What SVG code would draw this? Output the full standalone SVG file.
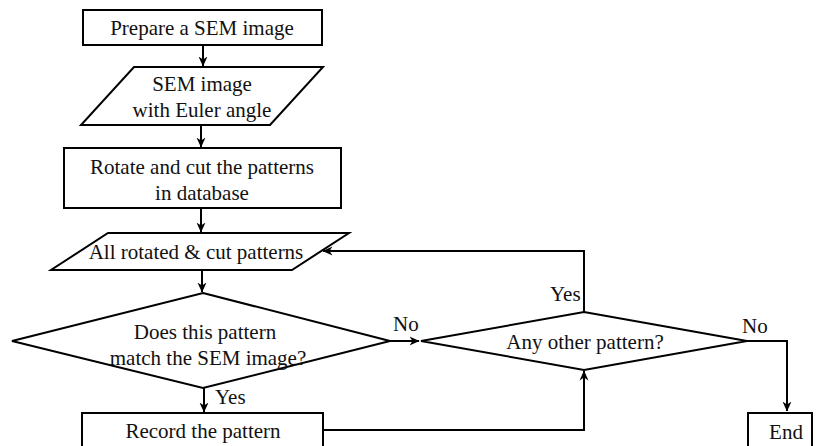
<svg xmlns="http://www.w3.org/2000/svg" width="817" height="446" viewBox="0 0 817 446">
  <style>
    .shape { fill: #ffffff; stroke: #000000; stroke-width: 2; }
    .edge { fill: none; stroke: #000000; stroke-width: 2; }
    text { font-family: "Liberation Serif", Tinos, "Times New Roman", Times, "DejaVu Serif", serif; font-size: 21px; fill: #111111; text-anchor: middle; }
    .lbl { text-anchor: start; }
  </style>
  <defs>
    <marker id="arrow" viewBox="0 0 10 10" refX="9.5" refY="5" markerWidth="10" markerHeight="10" markerUnits="userSpaceOnUse" orient="auto">
      <path d="M0,0.5 L10,5 L0,9.5 L3,5 Z" fill="#000000"/>
    </marker>
  </defs>
  <rect width="817" height="446" fill="#ffffff"/>

  <g id="connectors">
    <line class="edge" x1="203" y1="45" x2="203" y2="66" marker-end="url(#arrow)"/>
    <line class="edge" x1="201" y1="125" x2="201" y2="147" marker-end="url(#arrow)"/>
    <line class="edge" x1="201" y1="208" x2="201" y2="232" marker-end="url(#arrow)"/>
    <line class="edge" x1="202" y1="270" x2="202" y2="292" marker-end="url(#arrow)"/>
    <line class="edge" x1="204" y1="388" x2="204" y2="412" marker-end="url(#arrow)"/>
    <line class="edge" x1="390" y1="341" x2="419" y2="341" marker-end="url(#arrow)"/>
    <polyline class="edge" points="584,312 584,251 323,251" marker-end="url(#arrow)"/>
    <polyline class="edge" points="323,430 584,430 584,371" marker-end="url(#arrow)"/>
    <polyline class="edge" points="747,341 787,341 787,411" marker-end="url(#arrow)"/>
    <text class="lbl" x="393" y="331">No</text>
    <text class="lbl" x="215" y="404">Yes</text>
    <text class="lbl" x="550" y="301">Yes</text>
    <text class="lbl" x="742" y="333">No</text>
  </g>

  <g id="prepare">
    <rect class="shape" x="83" y="10" width="239" height="35"/>
    <text x="202" y="35">Prepare a SEM image</text>
  </g>

  <g id="sem-euler">
    <polygon class="shape" points="134,67 323,67 270,125 81,125"/>
    <text x="202" y="91">SEM image</text>
    <text x="202" y="117">with Euler angle</text>
  </g>

  <g id="rotate-cut">
    <rect class="shape" x="64" y="148" width="277" height="60"/>
    <text x="202" y="174">Rotate and cut the patterns</text>
    <text x="202" y="200">in database</text>
  </g>

  <g id="all-patterns">
    <polygon class="shape" points="108,233 349,233 292,270 51,270"/>
    <text x="196" y="259">All rotated &amp; cut patterns</text>
  </g>

  <g id="match-decision">
    <polygon class="shape" points="203,293 390,341 203,388 12,341"/>
    <text x="205" y="339">Does this pattern</text>
    <text x="208" y="365">match the SEM image?</text>
  </g>

  <g id="record">
    <rect class="shape" x="82" y="413" width="241" height="40"/>
    <text x="203" y="438">Record the pattern</text>
  </g>

  <g id="other-decision">
    <polygon class="shape" points="584,312 747,341 584,370 421,341"/>
    <text x="585" y="349">Any other pattern?</text>
  </g>

  <g id="end">
    <rect class="shape" x="748" y="413" width="64" height="40"/>
    <text x="786" y="439">End</text>
  </g>
</svg>
